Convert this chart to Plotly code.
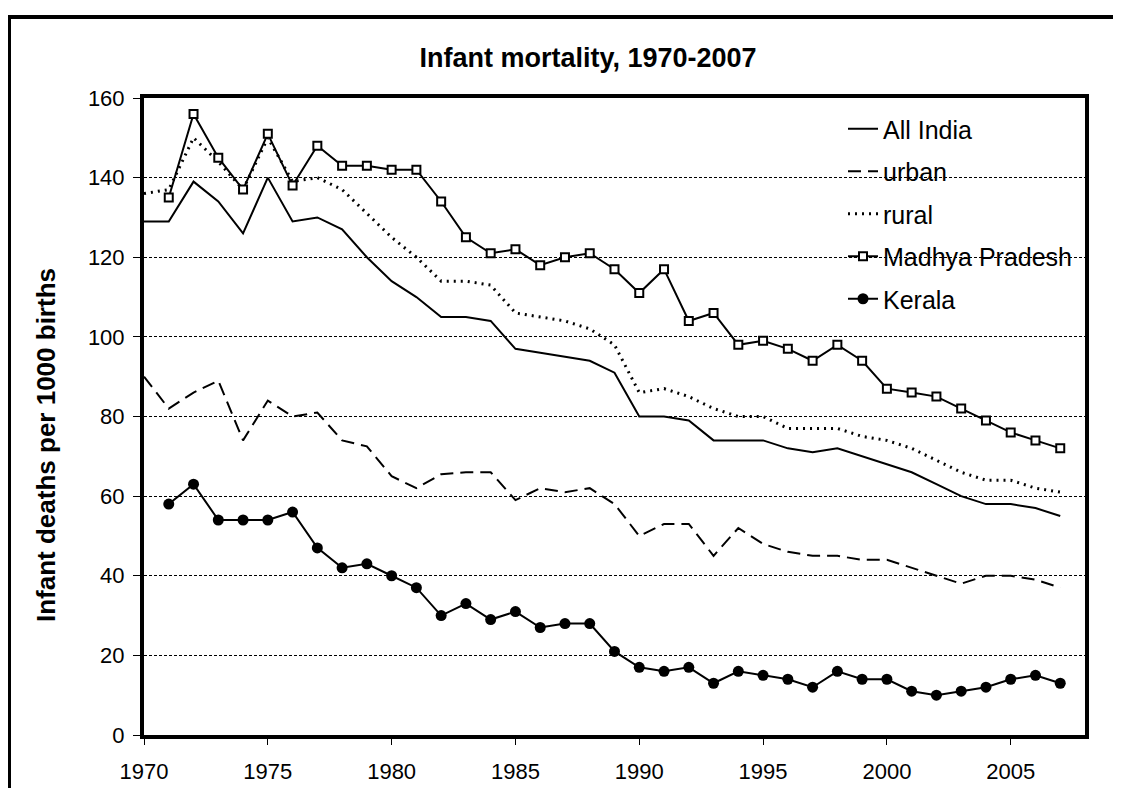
import plotly.graph_objects as go

years = list(range(1970, 2008))
years_states = list(range(1971, 2008))

all_india = [129, 129, 139, 134, 126, 140, 129, 130, 127, 120,
             114, 110, 105, 105, 104, 97, 96, 95, 94, 91,
             80, 80, 79, 74, 74, 74, 72, 71, 72, 70,
             68, 66, 63, 60, 58, 58, 57, 55]
urban = [90, 82, 86, 89, 74, 84, 80, 81, 74, 72.5,
         65, 62, 65.5, 66, 66, 59, 62, 61, 62, 58,
         50, 53, 53, 45, 52, 48, 46, 45, 45, 44,
         44, 42, 40, 38, 40, 40, 39, 37]
rural = [136, 137, 150, 144, 137, 150, 139, 140, 137, 131,
         125, 120, 114, 114, 113, 106, 105, 104, 102, 98,
         86, 87, 85, 82, 80, 80, 77, 77, 77, 75,
         74, 72, 69, 66, 64, 64, 62, 61]
madhya_pradesh = [135, 156, 145, 137, 151, 138, 148, 143, 143,
                  142, 142, 134, 125, 121, 122, 118, 120, 121, 117,
                  111, 117, 104, 106, 98, 99, 97, 94, 98, 94,
                  87, 86, 85, 82, 79, 76, 74, 72]
kerala = [58, 63, 54, 54, 54, 56, 47, 42, 43,
          40, 37, 30, 33, 29, 31, 27, 28, 28, 21,
          17, 16, 17, 13, 16, 15, 14, 12, 16, 14,
          14, 11, 10, 11, 12, 14, 15, 13]

x_ticks = [1970, 1975, 1980, 1985, 1990, 1995, 2000, 2005]
y_ticks = [0, 20, 40, 60, 80, 100, 120, 140, 160]

FONT = "Liberation Sans, Arial, sans-serif"

fig = go.Figure()
fig.add_trace(go.Scatter(x=years, y=all_india, name="All India", mode="lines",
                         line=dict(color="black", width=2), legendgroup="a"))
fig.add_trace(go.Scatter(x=years, y=urban, name="urban", mode="lines",
                         line=dict(color="black", width=2, dash="13px,7px"), legendgroup="b"))
fig.add_trace(go.Scatter(x=years, y=rural, name="rural", mode="lines",
                         line=dict(color="black", width=3, dash="2px,5px"), legendgroup="c"))
fig.add_trace(go.Scatter(x=years_states, y=madhya_pradesh, name="Madhya Pradesh",
                         mode="lines+markers",
                         line=dict(color="black", width=2),
                         marker=dict(symbol="square", size=8, color="white",
                                     line=dict(color="black", width=2)),
                         legendgroup="d"))
fig.add_trace(go.Scatter(x=years_states, y=kerala, name="Kerala",
                         mode="lines+markers",
                         line=dict(color="black", width=2),
                         marker=dict(symbol="circle", size=11, color="black"),
                         legendgroup="e"))

# page body has an 8px margin, so the figure is offset by (8, 8)
OFF = 8
W, H = 1121 - 2 * OFF, 796 - 2 * OFF
L, T = 144 - OFF, 98 - OFF
R = W - (1085 - OFF)
B = H - (735 - OFF)
pw = W - L - R
ph = H - T - B

def px_x(p):
    return (p - OFF - L) / pw

def px_y(p):
    return (H - B - (p - OFF)) / ph

fig.update_layout(
    width=W, height=H,
    margin=dict(l=L, r=R, t=T, b=B, autoexpand=False),
    paper_bgcolor="white", plot_bgcolor="white",
    font=dict(family=FONT, color="black"),
    title=dict(text="<b>Infant mortality, 1970-2007</b>",
               font=dict(size=27, family=FONT, color="black"),
               x=px_x(588), xref="paper", xanchor="center",
               y=1 - (58 - OFF) / H, yref="container", yanchor="middle"),
    showlegend=True,
    legend=dict(x=px_x(843), y=px_y(106), xanchor="left", yanchor="top",
                bgcolor="rgba(0,0,0,0)", borderwidth=0,
                font=dict(size=25, family=FONT, color="black"),
                traceorder="grouped", tracegroupgap=7),
    xaxis=dict(range=[1970, 2008], tickmode="array", tickvals=x_ticks,
               ticks="outside", ticklen=6, tickwidth=1, tickcolor="black",
               tickfont=dict(size=22, family=FONT, color="black"),
               ticklabelstandoff=8, automargin=False,
               showline=True, linewidth=4, linecolor="black", mirror=True,
               showgrid=False, zeroline=False),
    yaxis=dict(range=[0, 160], tickmode="array", tickvals=y_ticks,
               ticks="outside", ticklen=7, tickwidth=1, tickcolor="black",
               tickfont=dict(size=22, family=FONT, color="black"),
               ticklabelstandoff=4, automargin=False,
               showline=True, linewidth=4, linecolor="black", mirror=True,
               showgrid=True, gridcolor="black", gridwidth=1, griddash="3px,2px",
               zeroline=False),
    annotations=[dict(text="<b>Infant deaths per 1000 births</b>", textangle=-90,
                      xref="paper", yref="paper", x=px_x(46), y=px_y(445),
                      xanchor="center", yanchor="middle", showarrow=False,
                      font=dict(size=26, family=FONT, color="black"))],
    shapes=[
        dict(type="line", xref="paper", yref="paper",
             x0=px_x(8), x1=px_x(1130), y0=px_y(17), y1=px_y(17),
             line=dict(color="black", width=4)),
        dict(type="line", xref="paper", yref="paper",
             x0=px_x(9.5), x1=px_x(9.5), y0=px_y(17), y1=px_y(800),
             line=dict(color="black", width=3)),
    ],
)

fig.write_html("out.html")
